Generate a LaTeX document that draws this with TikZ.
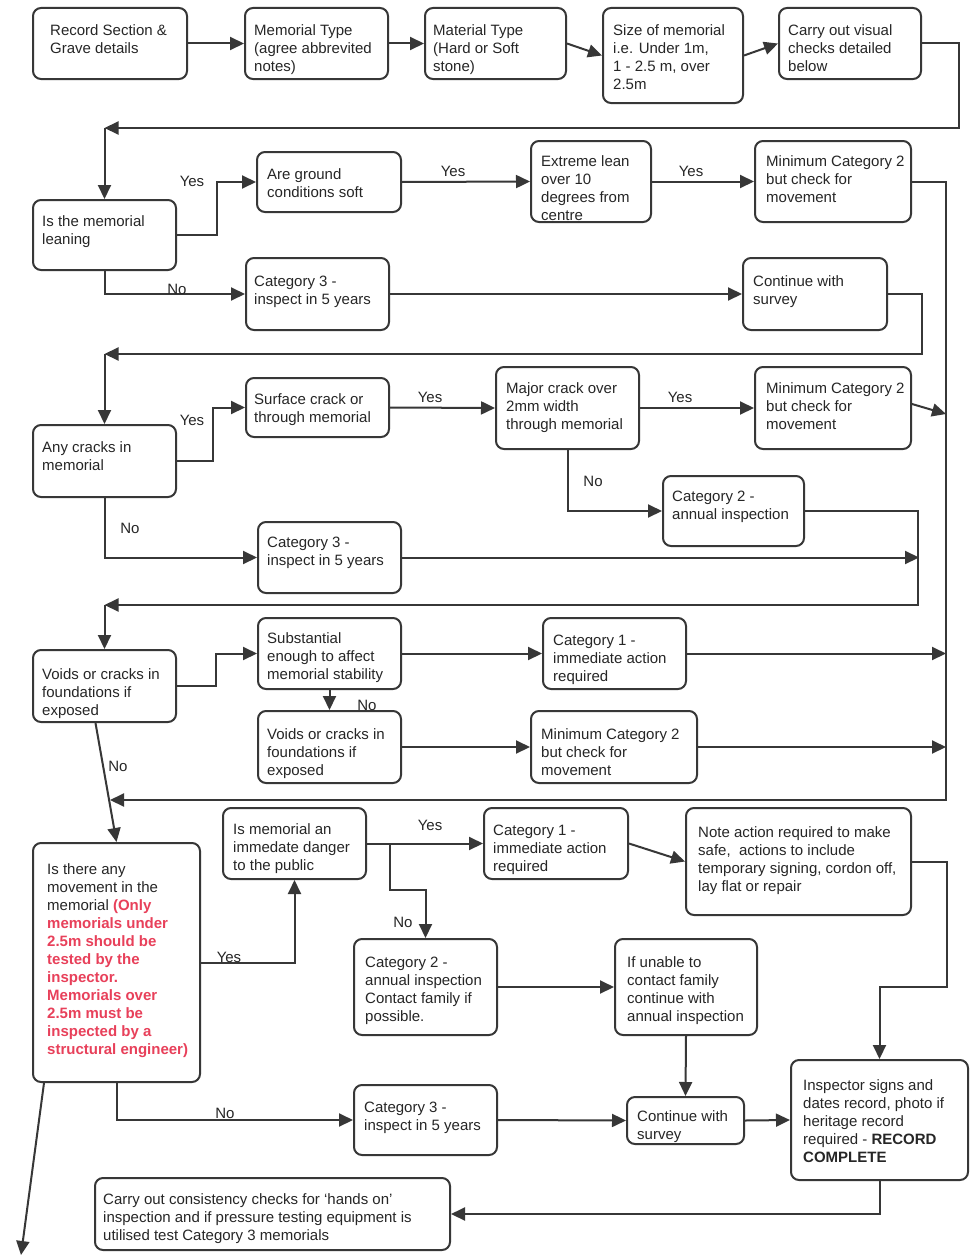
\documentclass[tikz,border=0pt]{standalone}
\usepackage{fontspec}
\setmainfont{Liberation Sans}
\usetikzlibrary{arrows.meta,calc}
\definecolor{ln}{RGB}{55,55,55}
\definecolor{rd}{RGB}{232,64,90}
\tikzset{
 box/.style={draw=ln, line width=2pt, rounded corners=8pt, fill=white, inner sep=0pt},
 txt/.style={align=left, inner sep=0pt, font=\fontsize{15}{18}\selectfont, text=black!85},
 arr/.style={draw=ln, line width=2pt, -{Triangle[length=14pt,width=13pt]}},
 lbl/.style={inner sep=0pt, font=\fontsize{15}{18}\selectfont, text=black!85},
}
% name, x1, y1, x2, y2, text-x, first-line-centre-y, text
\newcommand\bx[8]{%
  \node[box, minimum width={(#4-#2)*1pt}, minimum height={(#5-#3)*1pt}] (#1) at ({(#2+#4)/2},{(#3+#5)/2}) {};
  \node[txt, anchor=north west] (#1t) at (#6,{#7-5.5}) {#8};
}
\begin{document}
\begin{tikzpicture}[x=1pt,y=-1pt]
\useasboundingbox[fill=white] (0,0) rectangle (969,1255);

% ---------- row 1
\bx{b1}{33}{8}{187}{79}{50}{30}{Record Section \&\\Grave details}
\bx{b2}{245}{8}{388}{79}{254}{30}{Memorial Type\\(agree abbrevited\\notes)}
\bx{b3}{425}{8}{566}{79}{433}{30}{Material Type\\(Hard or Soft\\stone)}
\bx{b4}{603}{8}{743}{103}{613}{30}{Size of memorial\\i.e. Under 1m,\\1 - 2.5 m, over\\2.5m}
\bx{b5}{779}{8}{921}{79}{788}{30}{Carry out visual\\checks detailed\\below}

% ---------- leaning
\bx{l1}{33}{200}{176}{270}{42}{221}{Is the memorial\\leaning}
\bx{l2}{257}{152}{401}{212}{267}{174}{Are ground\\conditions soft}
\bx{l3}{531}{141}{651}{222}{541}{161}{Extreme lean\\over 10\\degrees from\\centre}
\bx{l4}{755}{141}{911}{222}{766}{161}{Minimum Category 2\\but check for\\movement}
\bx{l5}{246}{258}{389}{330}{254}{281}{Category 3 -\\inspect in 5 years}
\bx{l6}{743}{258}{887}{330}{753}{281}{Continue with\\survey}

% ---------- cracks
\bx{c1}{33}{425}{176}{497}{42}{447}{Any cracks in\\memorial}
\bx{c2}{246}{378}{389}{437}{254}{399}{Surface crack or\\through memorial}
\bx{c3}{496}{367}{639}{449}{506}{388}{Major crack over\\2mm width\\through memorial}
\bx{c4}{755}{367}{911}{449}{766}{388}{Minimum Category 2\\but check for\\movement}
\bx{c5}{663}{476}{804}{546}{672}{496}{Category 2 -\\annual inspection}
\bx{c6}{258}{522}{401}{593}{267}{542}{Category 3 -\\inspect in 5 years}

% ---------- voids
\bx{v1}{33}{650}{176}{722}{42}{674}{Voids or cracks in\\foundations if\\exposed}
\bx{v2}{258}{618}{401}{689}{267}{638}{Substantial\\enough to affect\\memorial stability}
\bx{v3}{543}{618}{686}{689}{553}{640}{Category 1 -\\immediate action\\required}
\bx{v4}{258}{711}{401}{783}{267}{734}{Voids or cracks in\\foundations if\\exposed}
\bx{v5}{531}{711}{697}{783}{541}{734}{Minimum Category 2\\but check for\\movement}

% ---------- movement
\bx{m1}{33}{843}{200}{1082}{47}{869}{Is there any\\movement in the\\memorial {\color{rd}\bfseries (Only}\\{\color{rd}\bfseries memorials under}\\{\color{rd}\bfseries 2.5m should be}\\{\color{rd}\bfseries tested by the}\\{\color{rd}\bfseries inspector.}\\{\color{rd}\bfseries Memorials over}\\{\color{rd}\bfseries 2.5m must be}\\{\color{rd}\bfseries inspected by a}\\{\color{rd}\bfseries structural engineer)}}
\bx{m2}{223}{808}{366}{879}{233}{829}{Is memorial an\\immedate danger\\to the public}
\bx{m3}{484}{808}{628}{879}{493}{830}{Category 1 -\\immediate action\\required}
\bx{m4}{686}{808}{911}{915}{698}{832}{Note action required to make\\safe,\ \ actions to include\\temporary signing, cordon off,\\lay flat or repair}
\bx{m5}{354}{939}{497}{1035}{365}{962}{Category 2 -\\annual inspection\\Contact family if\\possible.}
\bx{m6}{615}{939}{757}{1035}{627}{962}{If unable to\\contact family\\continue with\\annual inspection}
\bx{m7}{627}{1097}{744}{1144}{637}{1116}{Continue with\\survey}
\bx{m8}{354}{1085}{497}{1155}{364}{1107}{Category 3 -\\inspect in 5 years}
\bx{m9}{791}{1060}{968}{1180}{803}{1085}{Inspector signs and\\dates record, photo if\\heritage record\\required - \textbf{RECORD}\\\textbf{COMPLETE}}
\bx{m10}{95}{1178}{450}{1250}{103}{1199}{Carry out consistency checks for `hands on'\\inspection and if pressure testing equipment is\\utilised test Category 3 memorials}

% ---------- junction coordinates
\coordinate (j1) at (104.5,128);
\coordinate (j2) at (104.5,354);
\coordinate (j3) at (104.5,605);
\coordinate (j4) at (110,800);
\coordinate (r1) at (946,800);
\coordinate (c4in) at (946,414);
\coordinate (m2j) at (390,843.5);
\coordinate (endpt) at (21,1255);

% ---------- row 1 connectors
\draw[arr] (b1.east) -- (b2.west);
\draw[arr] (b2.east) -- (b3.west);
\draw[arr] (b3.east) -- (b4.west);
\draw[arr] (b4.east) -- (b5.west);
\draw[arr] (b5.east) -- ++(37,0) |- (j1);
\draw[arr] (j1) -- (l1.north);

% ---------- leaning connectors
\draw[arr] (l1.east) -- ++(40,0) |- (l2.west);
\draw[arr] (l2.east) -- (l3.west);
\draw[arr] (l3.east) -- (l4.west);
\draw[arr] (l1.south) |- (l5.west);
\draw[arr] (l5.east) -- (l6.west);
\draw[arr] (l6.east) -- ++(34,0) |- (j2);
\draw[arr] (j2) -- (c1.north);
\draw[arr] (l4.east) -- (l4.east -| r1) -- (r1) -- (j4);

% ---------- cracks connectors
\draw[arr] (c1.east) -- ++(36,0) |- (c2.west);
\draw[arr] (c2.east) -- (c3.west);
\draw[arr] (c3.east) -- (c4.west);
\draw[arr] ($(c4.east)+(0,-4)$) -- (c4in);
\draw[arr] (c3.south) |- (c5.west);
\draw[arr] (c1.south) |- (c6.west);
\draw[arr] (c6.east) -- (c6.east -| 919,0);
\draw[arr] (c5.east) -- ++(113,0) |- (j3);
\draw[arr] (j3) -- (v1.north);

% ---------- voids connectors
\draw[arr] (v1.east) -- ++(39,0) |- (v2.west);
\draw[arr] (v2.east) -- (v3.west);
\draw[arr] (v3.east) -- (v3.east -| r1);
\draw[arr] (v2.south) -- (v4.north);
\draw[arr] (v4.east) -- (v5.west);
\draw[arr] (v5.east) -- (v5.east -| r1);
\draw[arr] ($(v1.south)+(-9,0)$) -- (m1.north);

% ---------- movement connectors
\draw[arr] (m1.east) -| (m2.south);
\draw[arr] (m2.east) -- (m3.west);
\draw[arr] (m2j) -- ++(0,46.5) -| (m5.north);
\draw[arr] (m3.east) -- (m4.west);
\draw[arr] (m4.east) -- ++(35,0) |- ($(m9.north)+(0,-72)$) -- (m9.north);
\draw[arr] (m5.east) -- (m6.west);
\draw[arr] (m6.south) -- (m7.north);
\draw[arr] (m1.south) |- (m8.west);
\draw[arr] (m8.east) -- (m7.west);
\draw[arr] (m7.east) -- (m9.west);
\draw[arr] (m9.south) |- (m10.east);
\draw[arr] ($(m1.south west)+(12,0)$) -- (endpt);

% ---------- labels
\node[lbl] (ya) at (192,181) {Yes};
\node[lbl] (yb) at (453,171) {Yes};
\node[lbl] (yc) at (691,171) {Yes};
\node[lbl] (na) at (177,289) {No};
\node[lbl] (yd) at (192,420) {Yes};
\node[lbl] (ye) at (430,397) {Yes};
\node[lbl] (yf) at (680,397) {Yes};
\node[lbl] (nb) at (593,481) {No};
\node[lbl] (nc) at (130,528) {No};
\node[lbl] (nd) at (367,705) {No};
\node[lbl] (ne) at (118,766) {No};
\node[lbl] (yg) at (430,825) {Yes};
\node[lbl] (nf) at (403,922) {No};
\node[lbl] (yh) at (229,957) {Yes};
\node[lbl] (ng) at (225,1113) {No};
\end{tikzpicture}
\end{document}
